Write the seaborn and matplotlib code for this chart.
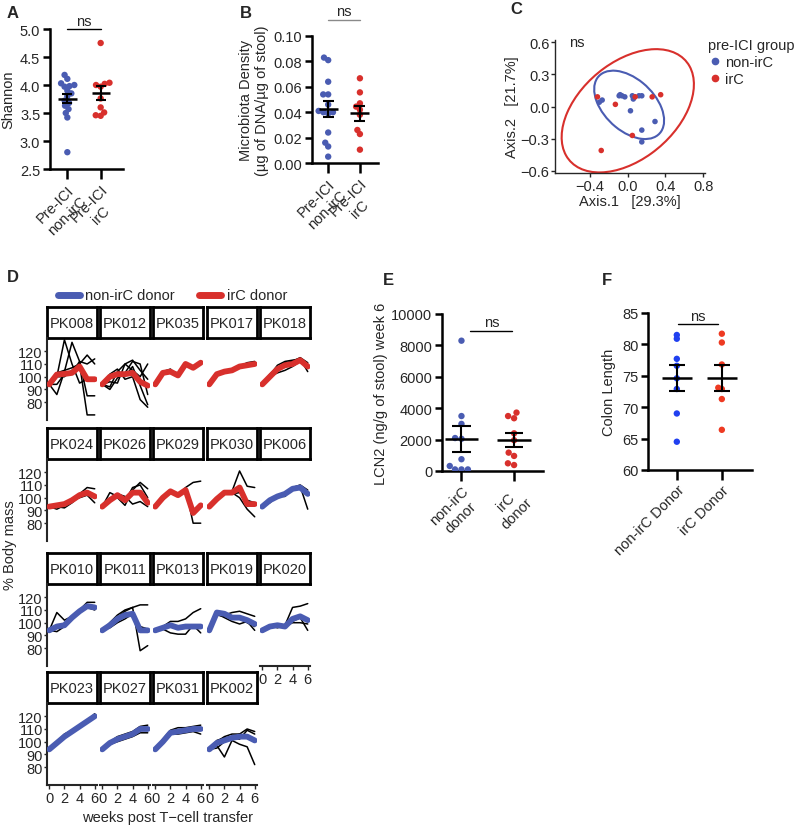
import numpy as np
import pandas as pd
import matplotlib
matplotlib.use("Agg")
import matplotlib.pyplot as plt
import seaborn as sns
from matplotlib.patches import Ellipse
from matplotlib.lines import Line2D

sns.set_style("ticks")
plt.rcParams['font.family'] = ['Liberation Sans', 'DejaVu Sans']

BLUE = "#4a5cb2"
RED = "#d8302c"
BLUE_F = "#2040f0"
RED_F = "#ee3a22"

# ---- A: Shannon ----
shannon_nonirc = [4.18, 4.11, 4.03, 4.0, 3.98, 3.97, 3.90, 3.85, 3.80, 3.72, 3.68, 3.63, 3.57, 3.50, 3.42, 2.80]
shannon_irc = [4.75, 4.04, 4.02, 4.0, 3.97, 3.76, 3.60, 3.51, 3.46, 3.45]

# ---- B: microbiota density ----
density_nonirc = [0.083, 0.081, 0.064, 0.054, 0.054, 0.046, 0.041, 0.040, 0.040, 0.039, 0.024, 0.016, 0.013, 0.005]
density_irc = [0.0667, 0.0556, 0.047, 0.0444, 0.042, 0.038, 0.026, 0.0228, 0.0105]

# ---- C: PCoA ----
pc1_nonirc = [-0.30, -0.27, -0.08, -0.09, -0.06, -0.03, 0.05, 0.06, 0.07, 0.12, 0.15, 0.03, 0.29, 0.15, 0.15]
pc2_nonirc = [0.04, 0.06, 0.11, 0.10, 0.10, 0.09, 0.10, 0.07, 0.09, 0.10, 0.10, -0.04, -0.14, -0.22, -0.33]
pc1_irc = [-0.32, -0.13, 0.08, 0.26, 0.35, 0.05, -0.28]
pc2_irc = [0.09, 0.02, 0.09, 0.09, 0.11, -0.27, -0.41]
f95 = {"non-irC": 3.7389, "irC": 5.1433}  # qf(0.95, 2, n-1)
shrink = 0.85  # robust (cov.trob-like) covariance is tighter than the plain one

# ---- D: body mass per donor ----
weeks = [0, 1, 2, 3, 4, 5, 6]
panels = ["PK008", "PK012", "PK035", "PK017", "PK018",
          "PK024", "PK026", "PK029", "PK030", "PK006",
          "PK010", "PK011", "PK013", "PK019", "PK020",
          "PK023", "PK027", "PK031", "PK002"]
irc_donors = ["PK008", "PK012", "PK035", "PK017", "PK018", "PK024", "PK026", "PK029", "PK030"]
mice = {
    "PK008": [[94, 100, 129, 110, 95, 98, 97], [94, 86, 104, 127, 112, 110, 114],
              [94, 94, 102, 103, 112, 85, 85], [94, 100, 100, 105, 110, 70, 70],
              [94, 103, 105, 107, 110, 117, 110]],
    "PK012": [[94, 92, 104, 110, 113, 105, 98], [94, 100, 102, 100, 108, 93, 78],
              [94, 96, 95, 110, 105, 100, 110], [94, 90, 99, 103, 112, 110, 86],
              [94, 102, 106, 98, 100, 82, 76]],
    "PK035": [[94, 104, 106, 100, 110, 106, 110], [94, 103, 104, 103, 109, 108, 112]],
    "PK017": [[94, 103, 105, 104, 108, 111, 112], [94, 101, 104, 106, 109, 110, 111]],
    "PK018": [[94, 101, 109, 112, 113, 114, 104], [94, 100, 103, 105, 108, 112, 110],
              [94, 102, 107, 111, 112, 115, 111]],
    "PK024": [[93, 91, 94, 97, 103, 108, 107], [93, 93, 92, 96, 101, 105, 102],
              [93, 95, 96, 98, 100, 102, 96]],
    "PK026": [[93, 104, 101, 97, 108, 110, 100], [93, 97, 103, 101, 95, 97, 93],
              [93, 100, 100, 94, 106, 112, 107]],
    "PK029": [[93, 100, 104, 102, 108, 112, 113], [93, 98, 104, 102, 107, 80, 80],
              [93, 101, 105, 103, 105, 89, 95]],
    "PK030": [[93, 100, 104, 105, 121, 109, 108], [93, 98, 104, 104, 100, 91, 85],
              [93, 98, 103, 103, 104, 98, 96]],
    "PK006": [[93, 96, 101, 101, 108, 109, 91], [93, 99, 101, 104, 108, 110, 106]],
    "PK010": [[94, 108, 102, 105, 110, 116, 116], [94, 93, 97, 103, 108, 112, 110]],
    "PK011": [[94, 100, 106, 110, 112, 78, 82], [94, 97, 104, 109, 112, 114, 114],
              [94, 96, 100, 103, 107, 97, 95]],
    "PK013": [[94, 97, 101, 101, 103, 108, 111], [94, 95, 92, 91, 91, 98, 92],
              [94, 97, 99, 97, 98, 96, 97]],
    "PK019": [[94, 107, 106, 108, 109, 107, 105], [94, 107, 104, 101, 99, 101, 94],
              [94, 106, 105, 103, 103, 100, 97]],
    "PK020": [[94, 96, 97, 98, 112, 113, 115], [94, 98, 96, 98, 101, 104, 94],
              [94, 97, 99, 97, 100, 100, 99]],
    "PK023": [[94, 100, 106, 109, 113, 116, 122], [94, 99, 103, 107, 111, 115, 119]],
    "PK027": [[94, 100, 104, 106, 108, 112, 113], [94, 98, 100, 102, 104, 107, 107]],
    "PK031": [[94, 102, 109, 111, 111, 112, 113], [94, 100, 106, 106, 107, 108, 106]],
    "PK002": [[94, 100, 104, 106, 106, 110, 108], [94, 97, 88, 101, 98, 96, 82],
              [94, 101, 103, 104, 106, 104, 102], [94, 95, 100, 103, 102, 109, 106]],
}
mean_line = {
    "PK008": [94, 101.7, 102.2, 103, 108, 98, 98],
    "PK012": [94, 100, 102, 102, 103, 96, 93],
    "PK035": [94, 103, 104, 101, 110, 107, 111],
    "PK017": [94, 102, 104, 105, 108, 109, 110],
    "PK018": [94, 100, 106, 109, 110, 113, 108],
    "PK024": [93, 94, 95, 98, 102, 104, 101],
    "PK026": [93, 98, 102, 98, 104, 104, 96],
    "PK029": [93, 100, 105, 102, 106, 88, 94],
    "PK030": [93, 99, 104, 104, 108, 95, 95],
    "PK006": [93, 98, 101, 103, 107, 108, 103],
    "PK010": [94, 97, 98, 104, 109, 113, 112],
    "PK011": [94, 98, 103, 106, 107, 94, 94],
    "PK013": [94, 96, 98, 96, 97, 97, 97],
    "PK019": [94, 108, 107, 104, 104, 102, 99],
    "PK020": [94, 97, 98, 97, 103, 105, 102],
    "PK023": [94, 99, 104, 108, 112, 116, 120],
    "PK027": [94, 99, 102, 104, 106, 110, 110],
    "PK031": [94, 100, 107, 108, 109, 110, 110],
    "PK002": [94, 99, 101, 103, 104, 104, 101],
}

# ---- E: LCN2 ----
lcn2_nonirc = [8300, 3500, 3000, 2100, 2050, 750, 320, 100, 100, 100]
lcn2_irc = [3720, 3500, 3360, 2400, 1960, 1170, 960, 490, 380]

# ---- F: colon length ----
colon_nonirc = [81.5, 80.9, 77.7, 76.6, 74.6, 72.9, 69.0, 64.5]
colon_irc = [81.7, 80.3, 76.8, 72.9, 73.1, 71.3, 66.4]

W, H = 794, 828
fig = plt.figure(figsize=(W / 100, H / 100), dpi=100)
swarm_axes = []


def px_axes(l, t, r, b):
    return fig.add_axes([l / W, 1 - b / H, (r - l) / W, (b - t) / H])


def label(x, y, s):
    fig.text(x / W, 1 - y / H, s, fontsize=12, fontweight="bold", ha="left", va="center")


def prism(ax):
    for s in ["top", "right"]:
        ax.spines[s].set_visible(False)
    for s in ["left", "bottom"]:
        ax.spines[s].set_linewidth(1.8)
        ax.spines[s].set_color("black")
    ax.tick_params(axis="both", width=1.8, length=5, labelsize=10.5, color="black", pad=2)
    ax.tick_params(axis="x", length=7)


def dots(ax, v1, v2, names, cols, mw, cw, swarm_size=3.4):
    df = pd.DataFrame({"group": [names[0]] * len(v1) + [names[1]] * len(v2), "val": v1 + v2})
    sns.swarmplot(data=df, x="group", y="val", order=names, hue="group", palette=dict(zip(names, cols)),
                  size=swarm_size, legend=False, ax=ax, zorder=3)
    swarm_axes.append(ax)
    st = df.groupby("group")["val"].agg(["mean", "sem"]).reindex(names)
    for i, (m, s) in enumerate(zip(st["mean"], st["sem"])):
        ax.hlines(m, i - mw / 2, i + mw / 2, color="black", lw=1.8, zorder=5)
        ax.vlines(i, m - s, m + s, color="black", lw=1.5, zorder=5)
        ax.hlines([m - s, m + s], i - cw / 2, i + cw / 2, color="black", lw=1.5, zorder=5)
    ax.set_xlabel("")


def ns_bar(ax, y, x0, x1, color="black"):
    ax.plot([x0, x1], [y, y], color=color, lw=1, clip_on=False)
    ax.annotate("ns", ((x0 + x1) / 2, y), xytext=(0, 1), textcoords="offset points",
                ha="center", va="bottom", fontsize=10.5, annotation_clip=False)


def rot_labels(ax, labs):
    ax.set_xticks(range(len(labs)))
    ax.set_xticklabels(labs, rotation=45, ha="right", va="top", rotation_mode="anchor",
                       multialignment="center")


# ---------- A ----------
axA = px_axes(50, 30, 123, 170)
dots(axA, shannon_nonirc, shannon_irc, ["Pre-ICI\nnon-irC", "Pre-ICI\nirC"], [BLUE, RED], 0.55, 0.3)
axA.set_xlim(-0.52, 1.67)
axA.set_ylim(2.5, 5.0)
axA.set_yticks(np.arange(2.5, 5.01, 0.5))
axA.set_yticklabels([f"{v:.1f}" for v in np.arange(2.5, 5.01, 0.5)])
axA.set_ylabel("Shannon", fontsize=10.5, labelpad=3)
prism(axA)
rot_labels(axA, ["Pre-ICI\nnon-irC", "Pre-ICI\nirC"])
ns_bar(axA, 5.0, 0.0, 1.0)
label(7, 13, "A")

# ---------- B ----------
axB = px_axes(312, 37, 378, 164)
dots(axB, density_nonirc, density_irc, ["Pre-ICI\nnon-irC", "Pre-ICI\nirC"], [BLUE, RED], 0.6, 0.35)
axB.set_xlim(-0.51, 1.57)
axB.set_ylim(0, 0.10)
axB.set_yticks(np.arange(0, 0.101, 0.02))
axB.set_yticklabels([f"{v:.2f}" for v in np.arange(0, 0.101, 0.02)])
axB.set_ylabel("Microbiota Density\n(µg of DNA/µg of stool)", fontsize=10.5, labelpad=3)
prism(axB)
rot_labels(axB, ["Pre-ICI\nnon-irC", "Pre-ICI\nirC"])
ns_bar(axB, 0.1128, 0.0, 1.0, color="#8a8a8a")
label(240, 13, "B")

# ---------- C ----------
axC = px_axes(555, 41, 705, 174)
dfC = pd.DataFrame({"Axis.1": pc1_nonirc + pc1_irc, "Axis.2": pc2_nonirc + pc2_irc,
                    "group": ["non-irC"] * len(pc1_nonirc) + ["irC"] * len(pc1_irc)})
palC = {"non-irC": BLUE, "irC": RED}
sns.scatterplot(data=dfC, x="Axis.1", y="Axis.2", hue="group", palette=palC, s=16,
                edgecolor="none", legend=False, ax=axC, zorder=3)
for grp in ["non-irC", "irC"]:
    pts = dfC.loc[dfC.group == grp, ["Axis.1", "Axis.2"]].to_numpy()
    ctr = pts.mean(axis=0)
    vals, vecs = np.linalg.eigh(np.cov(pts.T))
    r = shrink * np.sqrt(2 * f95[grp])
    ang = np.degrees(np.arctan2(vecs[1, 1], vecs[0, 1]))
    axC.add_patch(Ellipse(ctr, 2 * r * np.sqrt(vals[1]), 2 * r * np.sqrt(vals[0]), angle=ang,
                          fill=False, ec=palC[grp], lw=1.5, clip_on=False))
axC.set_xlim(-0.77, 0.82)
axC.set_ylim(-0.62, 0.62)
axC.set_xticks([-0.4, 0.0, 0.4, 0.8])
axC.set_yticks([-0.6, -0.3, 0.0, 0.3, 0.6])
axC.set_xticklabels(["−0.4", "0.0", "0.4", "0.8"])
axC.set_yticklabels(["−0.6", "−0.3", "0.0", "0.3", "0.6"])
for s in ["top", "right"]:
    axC.spines[s].set_visible(False)
for s in ["left", "bottom"]:
    axC.spines[s].set_linewidth(1.0)
axC.tick_params(labelsize=10.5, length=3, width=1, pad=1)
axC.set_xlabel("Axis.1   [29.3%]", fontsize=10.5, labelpad=1)
axC.set_ylabel("Axis.2   [21.7%]", fontsize=10.5, labelpad=1)
axC.text(-0.62, 0.6, "ns", fontsize=10.5, ha="left", va="center")
hC = [Line2D([], [], marker="o", ls="", color=palC[g], markersize=4.5, label=g) for g in ["non-irC", "irC"]]
legC = axC.legend(handles=hC, title="pre-ICI group", loc="upper left", bbox_to_anchor=(0.98, 1.06),
                  frameon=False, fontsize=10.5, title_fontsize=10.5, handletextpad=0.2,
                  handlelength=1.0, labelspacing=0.2, borderaxespad=0)
legC._legend_box.align = "left"
label(510, 9, "C")

# ---------- D ----------
rows = []
for p in panels:
    for k, trace in enumerate(mice[p]):
        for w, m in zip(weeks, trace):
            rows.append({"panel": p, "mouse": k, "week": w, "mass": m})
dfD = pd.DataFrame(rows)

col_left = [47, 100, 153, 207, 260]
strip_top = [308, 429, 554, 673]
fw, sh, ph = 50, 31, 82
for idx, p in enumerate(panels):
    r, c = divmod(idx, 5)
    l = col_left[c]
    st = strip_top[r]
    sax = px_axes(l, st, l + fw, st + sh)
    sax.set_xticks([])
    sax.set_yticks([])
    for s in sax.spines.values():
        s.set_linewidth(2.0)
        s.set_color("black")
    sax.text(0.5, 0.48, p, ha="center", va="center", fontsize=10.5, transform=sax.transAxes)
    ax = px_axes(l, st + sh, l + fw, st + sh + ph)
    sns.lineplot(data=dfD[dfD.panel == p], x="week", y="mass", units="mouse", estimator=None,
                 color="black", lw=1.1, ax=ax)
    colr = RED if p in irc_donors else BLUE
    sns.lineplot(x=weeks, y=mean_line[p], color=colr, lw=4.2, ax=ax, zorder=4)
    ax.set_xlim(-0.3, 6.3)
    ax.set_ylim(66, 130.4)
    ax.set_xlabel("")
    ax.set_ylabel("")
    for s in ["top", "right"]:
        ax.spines[s].set_visible(False)
    bottom = (r == 3) or (r == 2 and c == 4)
    ax.spines["left"].set_visible(c == 0)
    ax.spines["bottom"].set_visible(bottom)
    ax.spines["left"].set_linewidth(1.5)
    ax.spines["bottom"].set_linewidth(1.5)
    if c == 0:
        ax.set_yticks([80, 90, 100, 110, 120])
        ax.tick_params(axis="y", labelsize=10.5, length=2, width=1, pad=1)
    else:
        ax.set_yticks([])
    if bottom:
        ax.set_xticks([0, 2, 4, 6])
        ax.tick_params(axis="x", labelsize=10.5, length=3, width=1, pad=1)
    else:
        ax.set_xticks([])
    ax.patch.set_alpha(0)

fig.add_artist(Line2D([58 / W, 80 / W], [1 - 296 / H] * 2, lw=5, color=BLUE))
fig.text(85 / W, 1 - 296 / H, "non-irC donor", fontsize=10.5, va="center")
fig.add_artist(Line2D([199 / W, 221 / W], [1 - 296 / H] * 2, lw=5, color=RED))
fig.text(227 / W, 1 - 296 / H, "irC donor", fontsize=10.5, va="center")
fig.text(10 / W, 1 - 545 / H, "% Body mass", rotation=90, fontsize=10.5, ha="center", va="center")
fig.text(168 / W, 1 - 818 / H, "weeks post T−cell transfer", fontsize=10.5, ha="center", va="center")
label(7, 278, "D")

# ---------- E ----------
axE = px_axes(442, 315, 543, 472)
dots(axE, lcn2_nonirc, lcn2_irc, ["non-irC\ndonor", "irC\ndonor"], [BLUE, RED], 0.63, 0.35, swarm_size=4.4)
axE.set_xlim(-0.37, 1.55)
axE.set_ylim(0, 10000)
axE.set_yticks(range(0, 10001, 2000))
axE.set_ylabel("LCN2 (ng/g of stool) week 6", fontsize=10.5, labelpad=2)
prism(axE)
rot_labels(axE, ["non-irC\ndonor", "irC\ndonor"])
ns_bar(axE, 8940, 0.17, 0.97)
label(383, 281, "E")

# ---------- F ----------
axF = px_axes(648, 314, 752, 471)
dots(axF, colon_nonirc, colon_irc, ["non-irC Donor", "irC Donor"], [BLUE_F, RED_F], 0.67, 0.35, swarm_size=2.6)
axF.set_xlim(-0.64, 1.67)
axF.set_ylim(60, 85)
axF.set_yticks(range(60, 86, 5))
axF.set_ylabel("Colon Length", fontsize=10.5, labelpad=4)
prism(axF)
rot_labels(axF, ["non-irC Donor", "irC Donor"])
ns_bar(axF, 83.25, 0.02, 0.92)
label(602, 281, "F")

# let seaborn lay the swarms out with small dots once, then freeze them and draw
# the dots bigger so they overlap like a Prism scatter plot
fig.canvas.draw()
for ax in swarm_axes:
    for coll in ax.collections:
        if "draw" in coll.__dict__:
            del coll.draw
            coll.set_sizes([4.6 ** 2])

fig.savefig("out.png", dpi=100)
